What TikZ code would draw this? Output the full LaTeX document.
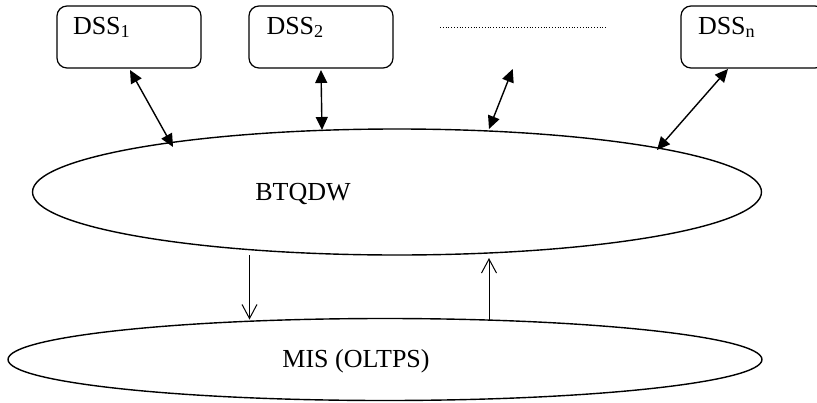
\documentclass[tikz,border=0pt]{standalone}
\usepackage{fontspec}
\setmainfont{Liberation Serif}
\usetikzlibrary{shapes.geometric,arrows.meta,calc}
\begin{document}
\begin{tikzpicture}[x=1pt,y=-1pt,
  dssbox/.style={draw,line width=1.2pt,rounded corners=10pt,minimum width=144pt,minimum height=62pt,inner sep=0pt,outer sep=0pt},
  ell/.style={draw,ellipse,line width=1.4pt,inner sep=0pt,outer sep=0pt},
  lbl/.style={inner sep=0pt,outer sep=0pt,font=\fontsize{26}{30}\selectfont},
  link/.style={line width=1.4pt,{Triangle[length=13pt,width=12pt]}-{Triangle[length=13pt,width=12pt]}},
  flow/.style={line width=1pt,-{Straight Barb[length=14pt,width=15pt]}},
]
\useasboundingbox (0,0) rectangle (817,402);

% decision support systems
\node[dssbox] (d1) at (129,37) {};
\node[dssbox] (d2) at (321,37) {};
\node[dssbox] (dn) at (753,37) {};
\node[lbl,anchor=base west] (t1) at (73,34) {DSS\textsubscript{1}};
\node[lbl,anchor=base west] (t2) at (266.5,34) {DSS\textsubscript{2}};
\node[lbl,anchor=base west] (tn) at (698,34) {DSS\textsubscript{n}};

% ellipsis between the boxes
\coordinate (dotsA) at (440,27);
\coordinate (dotsB) at (607,27);
\draw[line width=0.8pt,dotted] (dotsA) -- (dotsB);

% data warehouse and operational layer
\node[ell,minimum width=729pt,minimum height=126pt] (btq) at (397,192) {};
\node[lbl,anchor=base] (btqt) at (303,200) {BTQDW};
\node[ell,minimum width=754pt,minimum height=82pt] (mis) at (385,359.5) {};
\node[lbl,anchor=base] (mist) at (356,367) {MIS (OLTPS)};

% two-way links between the DSS boxes and the warehouse
\draw[link] ([xshift=1pt,yshift=-2pt]d1.south) -- ($(btq.center)+(-224,-45)$);
\draw[link] ([yshift=-2pt]d2.south) -- ($(btq.center)+(-75,-62)$);
\coordinate (free) at (512.7,69);
\draw[link] (free) -- ($(btq.center)+(92,-63)$);
\draw[link] ([xshift=-25pt,yshift=-1pt]dn.south) -- ($(btq.center)+(260,-42)$);

% loading and feedback between warehouse and MIS
\coordinate (down) at (249.5,0);
\coordinate (up) at (489,0);
\draw[flow] (btq.south -| down) -- ([yshift=-1pt]mis.north -| down);
\draw[flow] ([yshift=-1pt]mis.north -| up) -- ([yshift=-3pt]btq.south -| up);
\end{tikzpicture}
\end{document}
